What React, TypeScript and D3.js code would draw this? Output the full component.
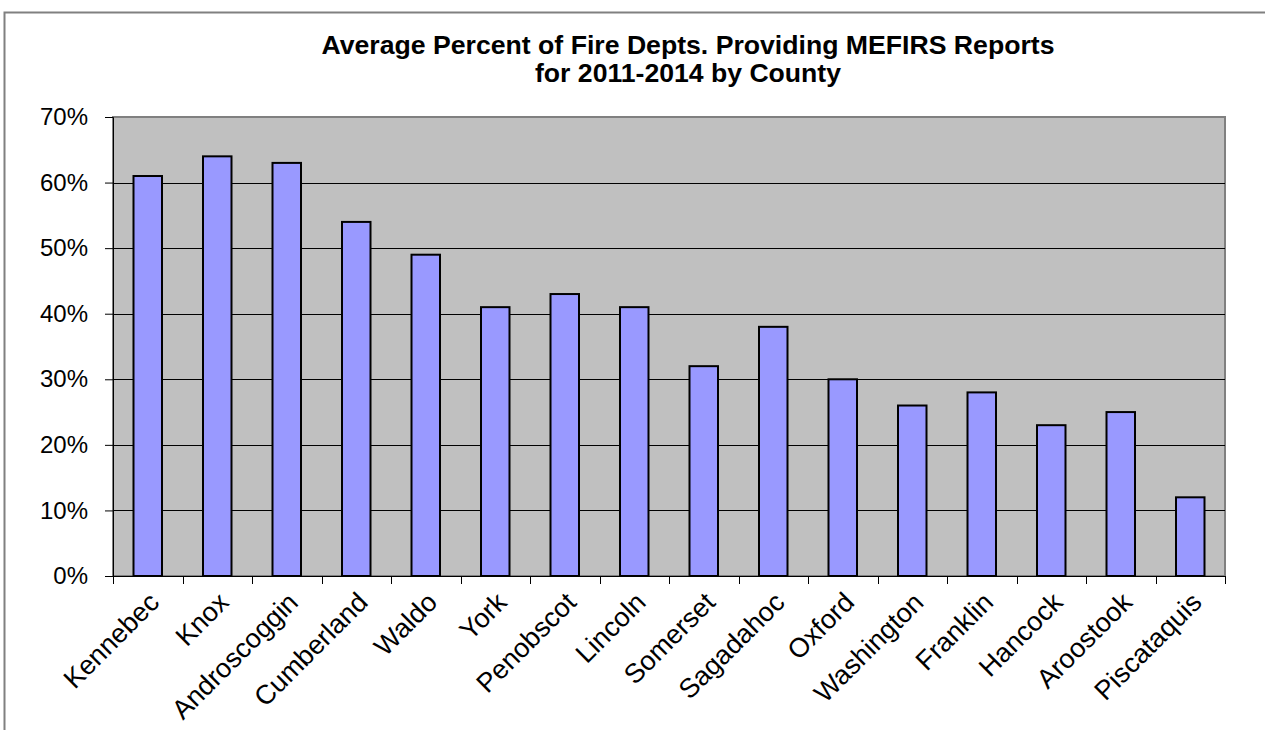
import React, { useEffect, useRef } from "react";
import * as d3 from "d3";

const counties = [
  "Kennebec", "Knox", "Androscoggin", "Cumberland", "Waldo", "York", "Penobscot", "Lincoln",
  "Somerset", "Sagadahoc", "Oxford", "Washington", "Franklin", "Hancock", "Aroostook", "Piscataquis",
];
const percents = [61, 64, 63, 54, 49, 41, 43, 41, 32, 38, 30, 26, 28, 23, 25, 12];
const yTicks = [0, 10, 20, 30, 40, 50, 60, 70];
const titleLines = [
  "Average Percent of Fire Depts. Providing MEFIRS Reports",
  "for 2011-2014 by County",
];
const titleWidths = [733, 306];

const W = 1265;
const H = 730;
const plot = { left: 113, right: 1225, top: 117, bottom: 576 };
const FONT = "'Liberation Sans', Arial, Helvetica, sans-serif";

export default function App() {
  const ref = useRef<SVGSVGElement>(null);

  useEffect(() => {
    const svg = d3.select(ref.current);
    svg.selectAll("*").remove();

    // outer chart border
    svg.append("rect")
      .attr("x", 4.5).attr("y", 12.5)
      .attr("width", W + 20).attr("height", H + 20)
      .attr("fill", "#fff").attr("stroke", "#808080").attr("stroke-width", 2);

    const x = d3.scaleBand<string>().domain(counties).range([plot.left, plot.right]).paddingInner(0.59).paddingOuter(0.295);
    const y = d3.scaleLinear().domain([0, 70]).range([plot.bottom, plot.top]);

    // plot background
    svg.append("rect")
      .attr("x", plot.left).attr("y", plot.top)
      .attr("width", plot.right - plot.left).attr("height", plot.bottom - plot.top)
      .attr("fill", "#c0c0c0").attr("stroke", "#808080").attr("stroke-width", 2);

    // gridlines
    svg.append("g").selectAll("line").data(yTicks.filter(t => t > 0 && t < 70)).join("line")
      .attr("x1", plot.left).attr("x2", plot.right)
      .attr("y1", d => Math.round(y(d)) + 0.5).attr("y2", d => Math.round(y(d)) + 0.5)
      .attr("stroke", "#000").attr("stroke-width", 1);

    // bars
    svg.append("g").selectAll("rect").data(percents).join("rect")
      .attr("x", (_, i) => x(counties[i])!)
      .attr("y", d => y(d))
      .attr("width", x.bandwidth())
      .attr("height", d => y(0) - y(d))
      .attr("fill", "#9999ff").attr("stroke", "#000").attr("stroke-width", 2);

    // y axis
    const yAxis = svg.append("g").attr("transform", `translate(${plot.left},0)`)
      .call(d3.axisLeft(y).tickValues(yTicks).tickSize(8).tickPadding(17).tickFormat(d => `${d}%`));
    yAxis.select(".domain").attr("stroke", "#000").attr("stroke-width", 1);
    yAxis.selectAll(".tick line").attr("stroke", "#000");
    yAxis.selectAll("text").attr("font-family", FONT).attr("font-size", 24).attr("fill", "#000");

    // x axis
    const xb = d3.scaleLinear().domain([0, counties.length]).range([plot.left, plot.right]);
    const xAxis = svg.append("g").attr("transform", `translate(0,${plot.bottom})`);
    xAxis.append("line").attr("x1", plot.left).attr("x2", plot.right).attr("y1", 0.5).attr("y2", 0.5).attr("stroke", "#000");
    xAxis.selectAll("line.tk").data(d3.range(counties.length + 1)).join("line").attr("class", "tk")
      .attr("x1", d => Math.round(xb(d)) + 0.5).attr("x2", d => Math.round(xb(d)) + 0.5)
      .attr("y1", 0).attr("y2", 8).attr("stroke", "#000");
    xAxis.selectAll("text").data(counties).join("text")
      .attr("transform", d => `translate(${x(d)! + x.bandwidth() / 2 + 13},${28}) rotate(-45)`)
      .attr("text-anchor", "end")
      .attr("font-family", FONT).attr("font-size", 27).attr("fill", "#000")
      .text(d => d);

    // title
    svg.append("g").selectAll("text").data(titleLines).join("text")
      .attr("x", 688).attr("y", (_, i) => 54 + i * 28)
      .attr("text-anchor", "middle")
      .attr("font-family", FONT).attr("font-size", 25).attr("font-weight", "bold")
      .attr("textLength", (_, i) => titleWidths[i])
      .attr("lengthAdjust", "spacingAndGlyphs")
      .text(d => d);
  }, []);

  return (
    <svg ref={ref} width={W} height={H} style={{ position: "absolute", left: 0, top: 0, background: "#fff" }} />
  );
}
